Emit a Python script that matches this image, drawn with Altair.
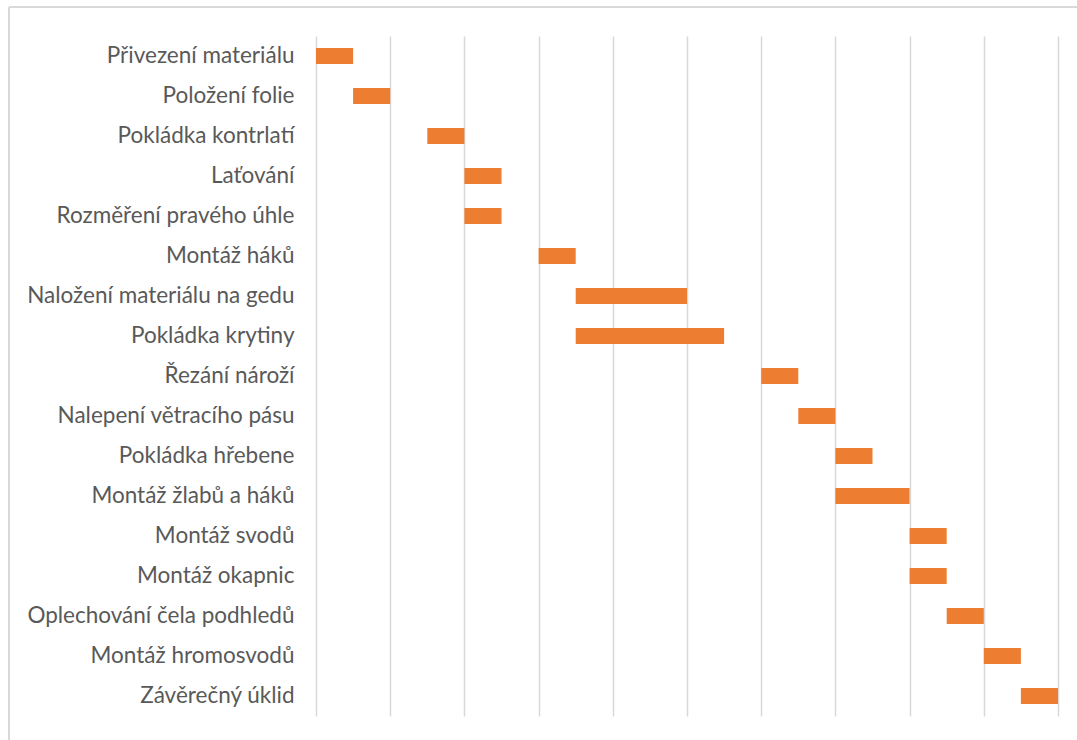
import altair as alt
import pandas as pd

tasks = ["Přivezení materiálu", "Položení folie", "Pokládka kontrlatí", "Laťování",
         "Rozměření pravého úhle", "Montáž háků", "Naložení materiálu na gedu",
         "Pokládka krytiny", "Řezání nároží", "Nalepení větracího pásu",
         "Pokládka hřebene", "Montáž žlabů a háků", "Montáž svodů", "Montáž okapnic",
         "Oplechování čela podhledů", "Montáž hromosvodů", "Závěrečný úklid"]
starts = [0, 0.5, 1.5, 2, 2, 3, 3.5, 3.5, 6, 6.5, 7, 7, 8, 8, 8.5, 9, 9.5]
durations = [0.5, 0.5, 0.5, 0.5, 0.5, 0.5, 1.5, 2, 0.5, 0.5, 0.5, 1, 0.5, 0.5, 0.5, 0.5, 0.5]
grid_values = [0, 1, 2, 3, 4, 5, 6, 7, 8, 9, 10]

df = pd.DataFrame({"task": tasks, "start": starts,
                   "end": [s + d for s, d in zip(starts, durations)]})

bars = alt.Chart(df).mark_bar(size=16, color="#ED7D31").encode(
    x=alt.X("start:Q", scale=alt.Scale(domain=[0, 10], nice=False),
            axis=alt.Axis(values=grid_values, labels=False, ticks=False, domain=False,
                          grid=True, gridColor="#d9d9d9", gridWidth=1.5, title=None)),
    x2="end:Q",
    y=alt.Y("task:N", sort=tasks, scale=alt.Scale(paddingInner=0.6, paddingOuter=0.3),
            axis=alt.Axis(ticks=False, domain=False, grid=False, title=None,
                          labelFont="Lato", labelFontSize=22.5, labelColor="#595959",
                          labelPadding=22, labelLimit=400)),
)

border_top = alt.Chart(df).mark_rule(color="#d9d9d9", strokeWidth=2).encode(
    x=alt.value(-307), x2=alt.value(800), y=alt.value(-29))
border_left = alt.Chart(df).mark_rule(color="#d9d9d9", strokeWidth=2).encode(
    x=alt.value(-307), y=alt.value(-29), y2=alt.value(720))

chart = alt.layer(border_top, border_left, bars).properties(
    width=742, height=680,
    autosize=alt.AutoSizeParams(type="none"),
    padding={"left": 316, "top": 36, "right": 19, "bottom": 24},
    background="white",
).configure_view(stroke=None)

chart.save("out.html", embed_options={"renderer": "svg", "actions": False})
